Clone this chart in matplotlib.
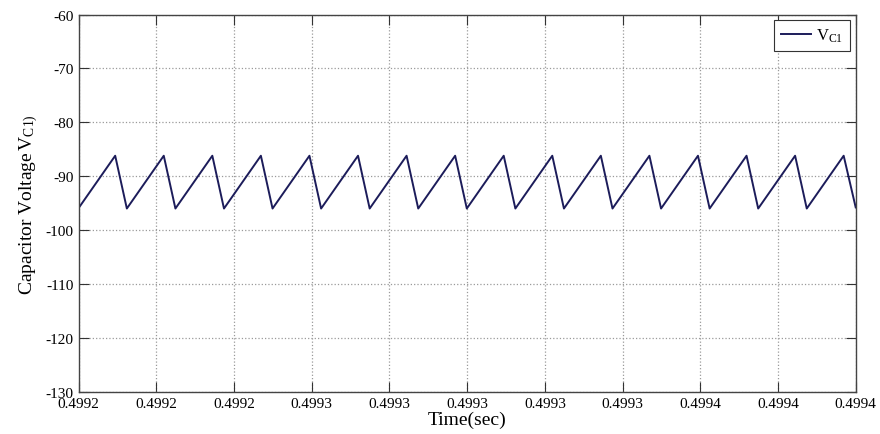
import numpy as np
import matplotlib
matplotlib.use("Agg")
import matplotlib.pyplot as plt
from matplotlib.ticker import FormatStrFormatter

plt.rcParams['font.family'] = ['Liberation Serif', 'DejaVu Serif']
plt.rcParams['mathtext.fontset'] = 'custom'
plt.rcParams['mathtext.rm'] = 'Liberation Serif'
plt.rcParams['mathtext.it'] = 'Liberation Serif:italic'
plt.rcParams['axes.unicode_minus'] = False

# sawtooth vertices (time offset in microseconds from 0.4992 s)
t_us = [0.0,
        9.4, 12.4, 21.9, 24.9, 34.4, 37.4, 46.9, 49.9,
        59.4, 62.4, 71.9, 74.9, 84.4, 87.4, 96.9, 99.9,
        109.4, 112.4, 121.9, 124.9, 134.4, 137.4, 146.9, 149.9,
        159.4, 162.4, 171.9, 174.9, 184.4, 187.4, 196.9, 200.0]
v_c1 = [-95.9,
        -86.2, -96.0, -86.2, -96.0, -86.2, -96.0, -86.2, -96.0,
        -86.2, -96.0, -86.2, -96.0, -86.2, -96.0, -86.2, -96.0,
        -86.2, -96.0, -86.2, -96.0, -86.2, -96.0, -86.2, -96.0,
        -86.2, -96.0, -86.2, -96.0, -86.2, -96.0, -86.2, -95.8]

t0 = 0.4992
x_ticks = [0.4992, 0.49922, 0.49924, 0.49926, 0.49928, 0.4993,
           0.49932, 0.49934, 0.49936, 0.49938, 0.4994]
y_ticks = [-130, -120, -110, -100, -90, -80, -70, -60]

t = t0 + np.array(t_us) * 1e-6

fig = plt.figure(figsize=(8.8, 4.35), dpi=100)
ax = fig.add_axes([0.0894, 0.0972, 0.883, 0.867])

ax.plot(t, v_c1, color='#1c1c5a', linewidth=1.4, label=r'$\mathrm{V_{C1}}$')

ax.set_xlim(x_ticks[0], x_ticks[-1])
ax.set_ylim(y_ticks[0], y_ticks[-1])
ax.set_xticks(x_ticks)
ax.set_yticks(y_ticks)
ax.xaxis.set_major_formatter(FormatStrFormatter('%.4f'))

ax.grid(True, linestyle=':', color='#9a9a9a', linewidth=0.9)
ax.tick_params(direction='in', length=7, width=0.8, labelsize=11,
               top=True, right=True, colors='#333333', labelcolor='black')
ax.tick_params(axis='x', pad=3.5)
for s in ax.spines.values():
    s.set_color('#444444')
    s.set_linewidth(1.0)

ax.set_xlabel('Time(sec)', fontsize=14, labelpad=1)
ax.set_ylabel(r'Capacitor Voltage$\,\mathrm{V_{C1)}}$', fontsize=14, labelpad=4)

leg = ax.legend(loc='upper right', fontsize=12, fancybox=False, framealpha=1,
                edgecolor='#333333', handlelength=1.8, handletextpad=0.3,
                borderpad=0.4, borderaxespad=0.35)
leg.get_frame().set_linewidth(0.8)

fig.savefig('out.png', dpi=100)
